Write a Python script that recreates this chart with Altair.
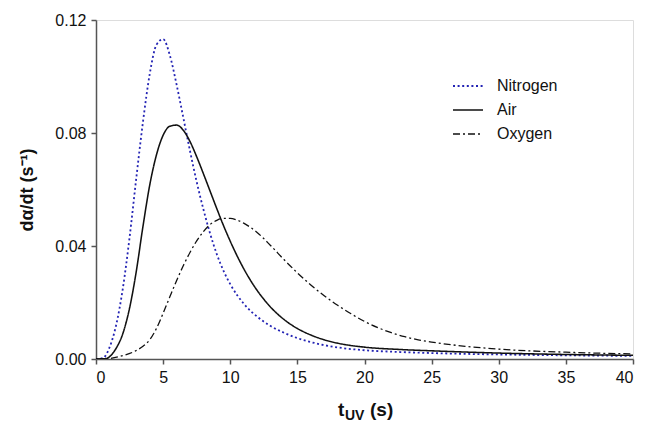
import altair as alt
import pandas as pd

# ---- data ----
nitrogen_t = [0, 0.5, 1.0, 1.5, 2.0, 2.5, 3.0, 3.5, 4.0, 4.5, 5.0, 5.5, 6.0, 6.5, 7.0, 7.5, 8.0, 8.5, 9.0, 9.5,
              10, 11, 12, 13, 14, 15, 16, 17, 18, 20, 22.5, 25, 30, 35, 40]
nitrogen_v = [0, 0.0003, 0.004, 0.012, 0.025, 0.043, 0.064, 0.084, 0.1008, 0.1112, 0.1132, 0.1075, 0.0972,
              0.0855, 0.0737, 0.0627, 0.0530, 0.0444, 0.0371, 0.0312, 0.0265, 0.0196, 0.0150, 0.0117, 0.0093,
              0.0074, 0.0060, 0.0049, 0.0041, 0.0031, 0.0025, 0.0021, 0.0016, 0.0013, 0.0011]

air_t = [0, 0.8, 1.0, 1.5, 2.0, 2.5, 3.0, 3.5, 4.0, 4.5, 5.0, 5.5, 6.0, 6.5, 7.0, 7.5, 8.0, 8.5, 9.0, 9.5,
         10, 10.5, 11, 11.5, 12, 13, 14, 15, 16, 17, 18, 20, 22.5, 25, 30, 35, 40]
air_v = [0, 0.0002, 0.0008, 0.0038, 0.009, 0.018, 0.031, 0.047, 0.0615, 0.0722, 0.0792, 0.0824, 0.0828,
         0.0810, 0.0770, 0.0716, 0.0656, 0.0594, 0.0532, 0.0472, 0.0417, 0.0366, 0.0320, 0.0279, 0.0243,
         0.0184, 0.0140, 0.0108, 0.0085, 0.0068, 0.0056, 0.0042, 0.0034, 0.0029, 0.0021, 0.0016, 0.0013]

oxygen_t = [0, 1.0, 2.0, 3.0, 3.5, 4.0, 4.5, 5.0, 5.5, 6.0, 6.5, 7.0, 7.5, 8.0, 8.5, 9.0, 9.5, 10.0, 10.5,
            11.0, 11.5, 12, 13, 14, 15, 16, 17, 18, 19, 20, 21, 22, 23, 24, 25, 27.5, 30, 35, 40]
oxygen_v = [0, 0.0002, 0.0012, 0.0030, 0.0045, 0.0068, 0.0108, 0.0162, 0.0220, 0.0277, 0.0330, 0.0377,
            0.0418, 0.0451, 0.0476, 0.0491, 0.0498, 0.0498, 0.0492, 0.0481, 0.0466, 0.0448, 0.0402, 0.0352,
            0.0305, 0.0262, 0.0224, 0.0190, 0.0160, 0.0133, 0.0111, 0.0093, 0.0079, 0.0068, 0.0060, 0.0045,
            0.0035, 0.0024, 0.0018]

series = ["Nitrogen", "Air", "Oxygen"]
colors = ["#2323b4", "#111111", "#111111"]
dashes = [[2, 2.6], [1, 0], [7, 3, 2, 3]]
widths = [1.8, 1.3, 1.3]

x_ticks = [0, 5, 10, 15, 20, 25, 30, 35, 40]
y_ticks = [0.0, 0.04, 0.08, 0.12]

rows = []
for name, ts, vs in [("Nitrogen", nitrogen_t, nitrogen_v), ("Air", air_t, air_v), ("Oxygen", oxygen_t, oxygen_v)]:
    rows += [{"t": t, "v": v, "series": name} for t, v in zip(ts, vs)]
df = pd.DataFrame(rows)

FONT = "Liberation Sans"
leg = dict(title=None, orient="none", legendX=356, legendY=50, symbolType="stroke",
           symbolSize=900, labelFontSize=16, labelFont=FONT, labelColor="#111111",
           labelOffset=13, rowPadding=-2, symbolStrokeColor="#111111")

axis_common = dict(title=None, labelFont=FONT, labelFontSize=16, labelColor="#111111",
                   tickSize=5, tickColor="#555555", tickWidth=1.5, domainColor="#555555",
                   domainWidth=1.5, grid=False, labelPadding=5)

lines = alt.Chart(df).mark_line(interpolate="monotone", clip=True).encode(
    x=alt.X("t:Q", scale=alt.Scale(domain=[0, 40], nice=False),
            axis=alt.Axis(values=x_ticks, format="d", **axis_common)),
    y=alt.Y("v:Q", scale=alt.Scale(domain=[0, 0.12], nice=False),
            axis=alt.Axis(values=y_ticks, format=".2f", **axis_common)),
    color=alt.Color("series:N", scale=alt.Scale(domain=series, range=colors), legend=alt.Legend(**leg)),
    strokeDash=alt.StrokeDash("series:N", scale=alt.Scale(domain=series, range=dashes), legend=alt.Legend(**leg)),
    strokeWidth=alt.StrokeWidth("series:N", scale=alt.Scale(domain=series, range=widths), legend=alt.Legend(**leg)),
    order=alt.Order("t:Q"),
)

title_df = pd.DataFrame({"a": [0]})
def txt(s, x, y, size, angle=0, align="left"):
    return alt.Chart(title_df).mark_text(text=s, font=FONT, fontSize=size, fontWeight="bold",
                                         color="#111111", align=align, baseline="alphabetic",
                                         angle=angle).encode(x=alt.value(x), y=alt.value(y))

xt1 = txt("t", 242, 396, 19)
xt2 = txt("UV", 249, 400, 14)
xt3 = txt("(s)", 274, 396, 19)
yt = txt("dα/dt (s⁻¹)", -63, 170, 18, angle=270, align="center")

chart = alt.layer(lines, xt1, xt2, xt3, yt).properties(
    width=537, height=339,
    autosize=alt.AutoSizeParams(type="none"),
    padding={"left": 88, "top": 12, "right": 10, "bottom": 63},
).configure_view(stroke="#555555", strokeWidth=1.5).configure(background="white")

chart.save("out.html", embed_options={"renderer": "svg", "actions": False})
